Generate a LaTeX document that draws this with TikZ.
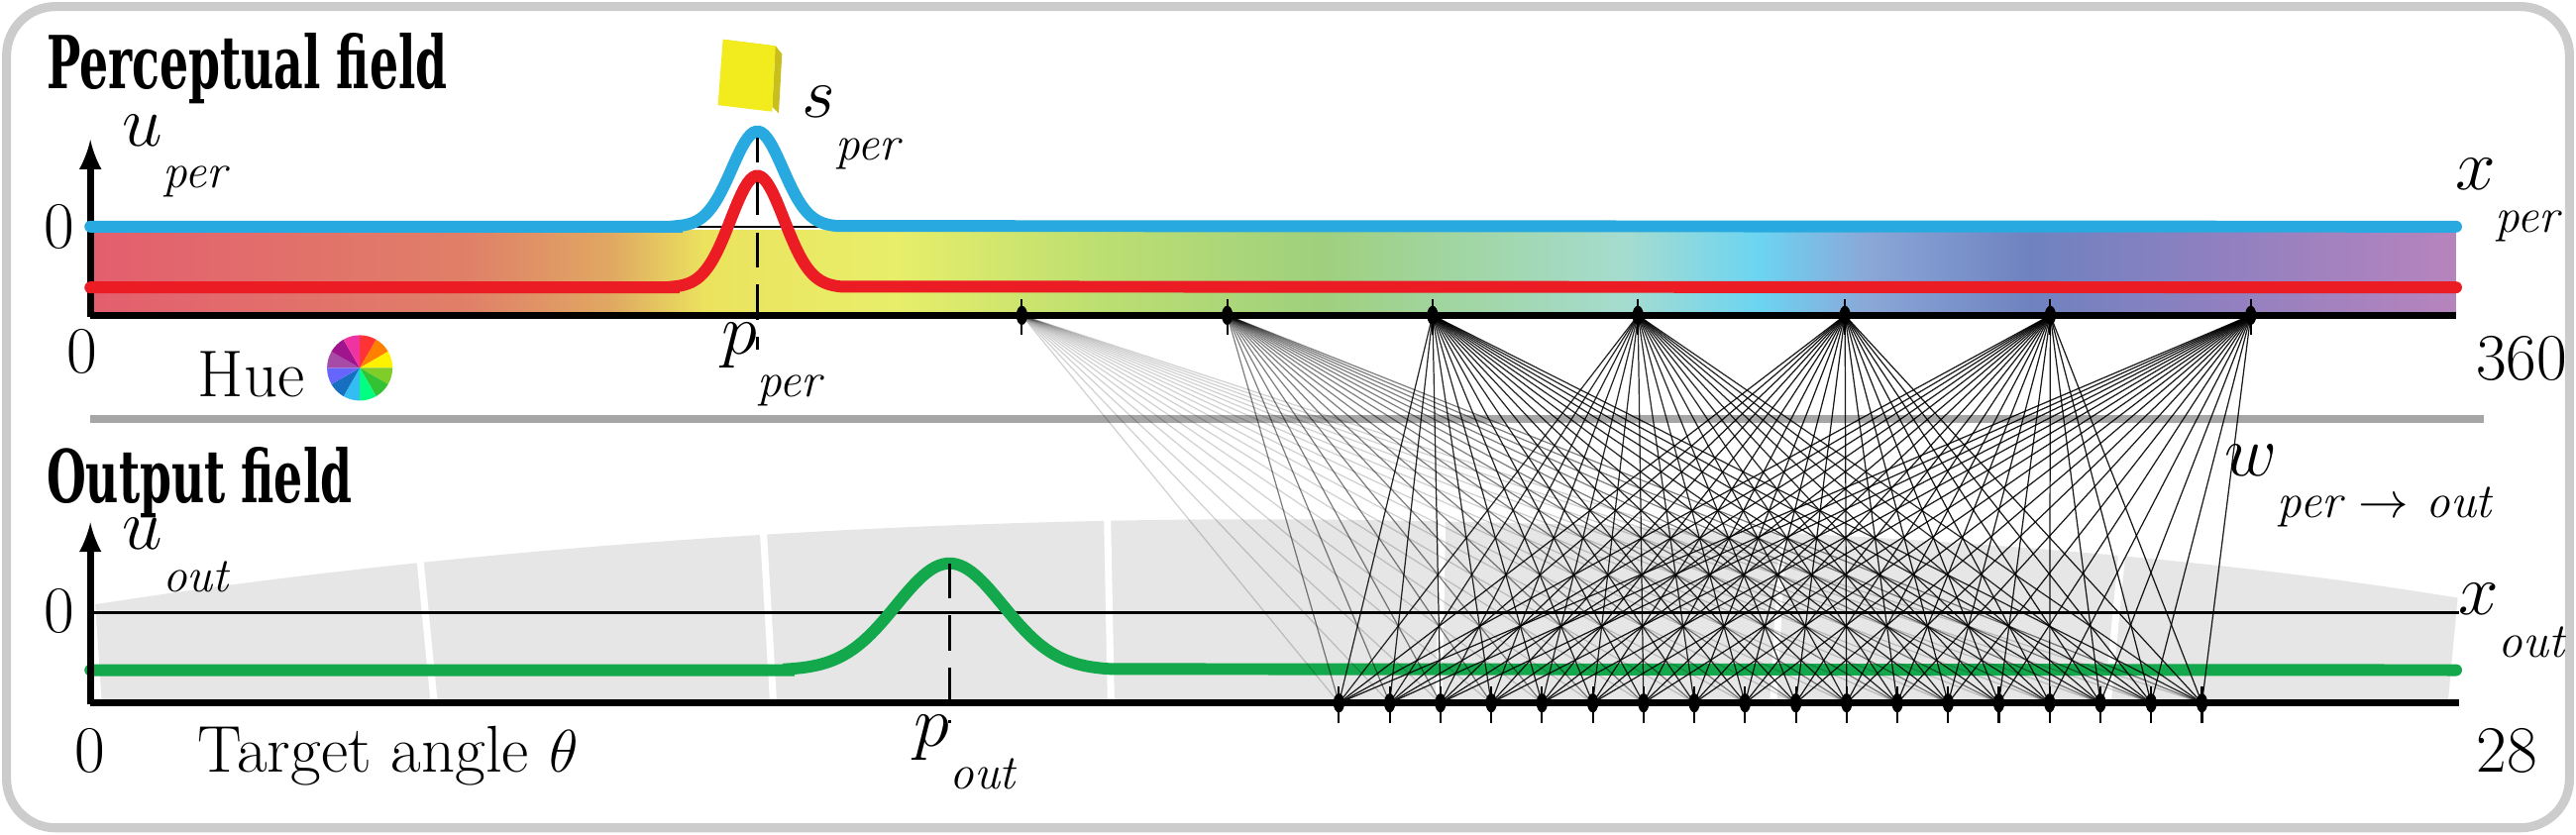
\documentclass[tikz,border=0pt]{standalone}
\usepackage{fontspec}
\newfontfamily\ttlfont{DejaVu Serif}
\usetikzlibrary{shapes.geometric}
\definecolor{c0}{HTML}{E35E6E}
\definecolor{c1}{HTML}{E08068}
\definecolor{c2}{HTML}{E0A862}
\definecolor{c3}{HTML}{EBE35E}
\definecolor{c4}{HTML}{E8EE6A}
\definecolor{c5}{HTML}{BFE070}
\definecolor{c6}{HTML}{9FD07E}
\definecolor{c7}{HTML}{A4DCD0}
\definecolor{c8}{HTML}{6CD4F2}
\definecolor{c9}{HTML}{8AA8D8}
\definecolor{c10}{HTML}{6F82C0}
\definecolor{c11}{HTML}{9080C0}
\definecolor{c12}{HTML}{B784BD}
\definecolor{cblue}{HTML}{28AAE0}
\definecolor{cred}{HTML}{EC1C24}
\definecolor{cgreen}{HTML}{14A84C}
\definecolor{cgray}{HTML}{E6E6E6}
\pgfdeclarehorizontalshading{hue}{100bp}{color(0bp)=(c0);color(25bp)=(c0);color(33bp)=(c1);color(36bp)=(c2);color(38bp)=(c3);color(42bp)=(c4);color(46bp)=(c5);color(51bp)=(c6);color(57.5bp)=(c7);color(60.25bp)=(c8);color(62.5bp)=(c9);color(66bp)=(c10);color(70bp)=(c11);color(75bp)=(c12);color(100bp)=(c12)}
\newcommand{\Lab}[2]{$#1$\raisebox{-0.55em}{\fontsize{14}{14}\selectfont\itshape #2}}
\begin{document}
\begin{tikzpicture}[x=0.016582cm,y=-0.016582cm,
  ttl/.style={font=\fontsize{21}{21}\selectfont\ttlfont\bfseries, anchor=north west, inner sep=0},
  txt/.style={font=\fontsize{19}{19}\selectfont, inner sep=0},
  mlab/.style={font=\fontsize{22}{22}\selectfont, inner sep=0, anchor=west},
  axis/.style={line width=1.9pt},
  curve/.style={line width=3.4pt, line cap=round},
  dot/.style={ellipse, fill=black, minimum width=3.2pt, minimum height=5.5pt, inner sep=0},
  conn/.style={line width=0.35pt}]
\useasboundingbox (0,0) rectangle (1568,508);
\draw[line width=2.6pt, color=black!20, rounded corners=14pt] (4,4) rectangle (1564,504);
% ---------- perceptual field ----------
\node[ttl] (t1) at (28,20) {\scalebox{0.62}[1]{Perceptual field}};
\shade[shading=hue] (55,140) rectangle (1495,192);
\draw[line width=0.7pt] (55,138) -- (1495,138);
\draw[axis] (55,192) -- (1495,192);
\draw[axis,-latex] (55,193) -- (55,85);
\draw[line width=0.8pt, dash pattern=on 10pt off 5pt] (461,78) -- (461,213);
\draw[curve, cred] (55,175) -- (410,175) -- plot[domain=410:512, samples=60] ({\x},{175-68*exp(-((\x-461)/23)^2)}) -- (1495,175);
\draw[curve, cblue] (55,138) -- (412,138) -- plot[domain=412:510, samples=60] ({\x},{138-58*exp(-((\x-461)/22)^2)}) -- (1495,138);
% cube
\fill[color=yellow!70!olive] (440,24) -- (472,28) -- (476,33) -- (444,29) -- cycle;
\fill[color={rgb,255:red,200;green,190;blue,30}] (472,28) -- (476,33) -- (474,69) -- (470,65) -- cycle;
\fill[color={rgb,255:red,242;green,236;blue,30}] (440,24) -- (472,28) -- (470,68) -- (437,64) -- cycle;
\node[mlab] (sper) at (488,78) {\Lab{s}{per}};
\node[mlab] (uper) at (74,95) {\Lab{u}{per}};
\node[mlab] (xper) at (1494,122) {\Lab{x}{per}};
\node[txt] (z1) at (36,138) {0};
\node[txt] (z2) at (50,214) {0};
\node[txt] (n360) at (1535,218) {360};
\node[txt] (hue) at (153,228) {Hue};
\node[mlab] (pper) at (439,222) {\Lab{p}{per}};
% colour wheel
\foreach \i/\c in {0/red!80!white,1/orange,2/yellow,3/yellow!50!green,4/green!70!black!80!white,5/green!50!cyan,6/cyan!80!white,7/cyan!50!blue,8/blue!60!white,9/violet!70!white,10/magenta!60!blue,11/magenta!80!white}{
  \fill[color=\c] (219,224) -- ++({90-\i*30}:9.4pt) arc[start angle={90-\i*30}, end angle={60-\i*30}, radius=9.4pt] -- cycle;}
% perceptual nodes
\foreach \i/\x in {1/622,2/747,3/872,4/997,5/1123,6/1248,7/1370}{
  \draw[line width=0.6pt] (\x,182) -- (\x,204);
  \node[dot] (p\i) at (\x,192) {};}
% separator
\draw[line width=2.4pt, color=black!35] (55,255) -- (1512,255);
% ---------- output field ----------
\node[ttl] (t2) at (28,272) {\scalebox{0.62}[1]{Output field}};
\fill[cgray] (58,368) .. controls (300,330) and (600,312) .. (850,317) .. controls (1150,322) and (1350,340) .. (1496,364) -- (1490,428) -- (62,428) -- cycle;
\foreach \g in {258,467,675,877,1083,1289}{
  \pgfmathsetmacro{\s}{-(\g-780)*0.012}
  \draw[line width=2pt, white] ({\g-\s},300) -- ({\g+\s},428);}
\draw[line width=0.8pt] (55,373) -- (1497,373);
\draw[curve, cgreen] (55,408) -- (480,408) -- plot[domain=480:676, samples=80] ({\x},{408-65*exp(-((\x-578)/46)^2)}) -- (1495,408);
\draw[line width=0.8pt, dash pattern=on 10pt off 5pt] (578,343) -- (578,440);
\draw[axis] (55,428) -- (1497,428);
\draw[axis,-latex] (55,429) -- (55,318);
\node[mlab] (uout) at (74,338) {\Lab{u}{out}};
\node[mlab] (xout) at (1496,378) {\Lab{x}{out}};
\node[mlab] (wout) at (1354,296) {\Lab{w}{per $\rightarrow$ out}};
\node[txt] (z3) at (36,372) {0};
\node[txt] (z4) at (55,457) {0};
\node[txt] (n28) at (1526,457) {28};
\node[txt, anchor=west] (ta) at (120,460) {Target angle $\theta$};
\node[mlab] (pout) at (556,458) {\Lab{p}{out}};
% output nodes
\foreach \i in {1,...,18}{
  \pgfmathsetmacro{\x}{815+(\i-1)*30.9}
  \draw[line width=0.6pt] (\x,418) -- (\x,440);
  \node[dot] (o\i) at (\x,428) {};}
% connections
\foreach \i/\op in {1/0.18,2/0.5,3/0.85,4/0.85,5/0.9,6/0.9,7/0.9}{
  \foreach \j in {1,...,18}{
    \draw[conn, draw opacity=\op] (p\i.center) -- (o\j.center);}}
\end{tikzpicture}
\end{document}
